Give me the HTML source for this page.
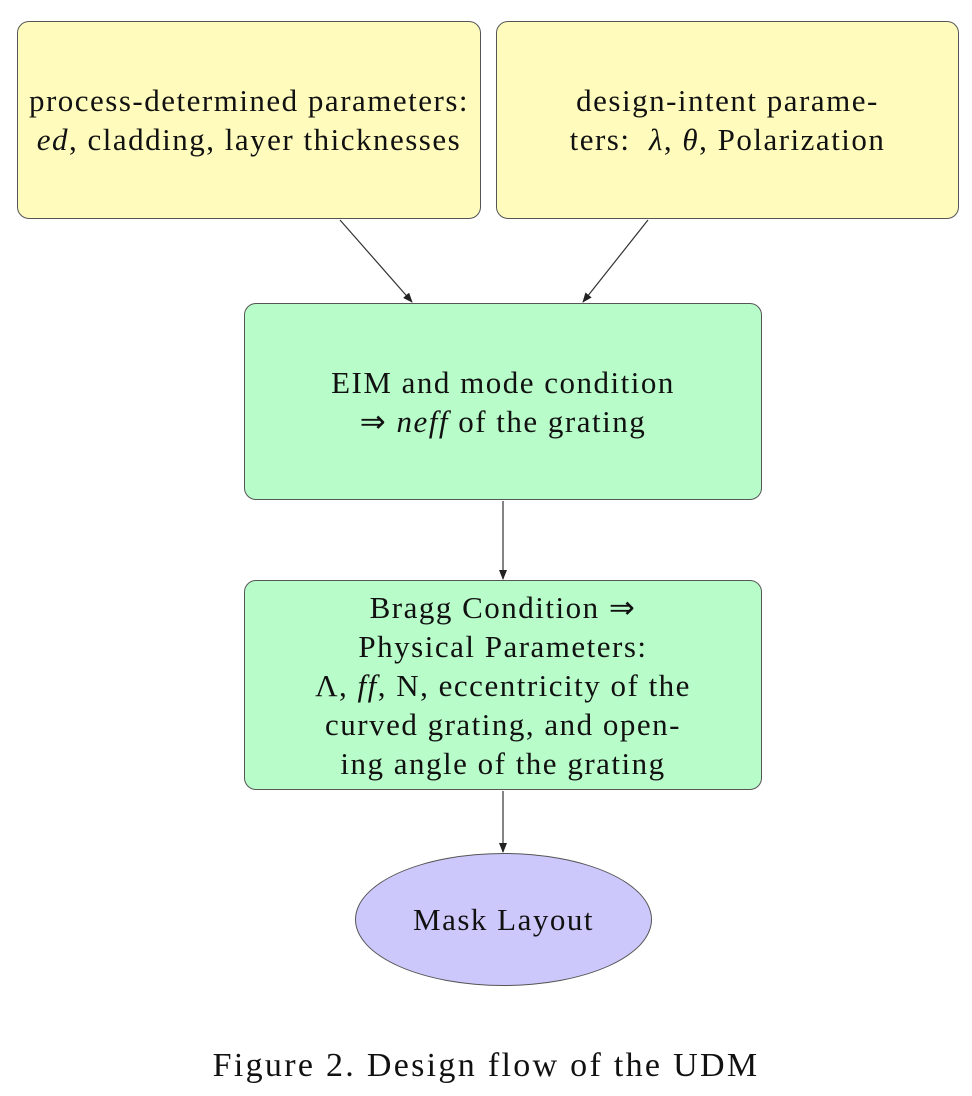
<!DOCTYPE html>
<html><head><style>
body{margin:0;width:972px;height:1096px;background:#fff;position:relative;font-family:"Liberation Serif",serif;color:#111;overflow:hidden}
.b{position:absolute;box-sizing:border-box;border:1.5px solid #555;border-radius:12px;display:flex;align-items:center;justify-content:center;text-align:center;font-size:31px;line-height:39px;letter-spacing:1.5px;white-space:nowrap}
.b>div{display:block}
.y{background:#fefbbd}.g{background:#b8fcc9}
i{font-style:italic}
</style></head><body>
<div class="b y" style="left:17px;top:21px;width:464px;height:198px"><div>process-determined parameters:<br><i>ed</i>, cladding, layer thicknesses</div></div>
<div class="b y" style="left:496px;top:21px;width:463px;height:198px"><div>design-intent parame-<br>ters: &nbsp;<i>λ</i>, <i>θ</i>, Polarization</div></div>
<div class="b g" style="left:244px;top:303px;width:518px;height:197px"><div>EIM and mode condition<br>⇒ <i>neff</i> of the grating</div></div>
<div class="b g" style="left:244px;top:580px;width:518px;height:210px"><div>Bragg Condition ⇒<br>Physical Parameters:<br>Λ, <i>ff</i>, N, eccentricity of the<br>curved grating, and open-<br>ing angle of the grating</div></div>
<div class="b" style="left:355px;top:853px;width:297px;height:133px;border-radius:50%;background:#ccc8fc"><div>Mask Layout</div></div>
<svg width="972" height="1096" style="position:absolute;left:0;top:0">
<defs><marker id="a" markerWidth="10" markerHeight="8" refX="9" refY="4" orient="auto" markerUnits="userSpaceOnUse"><path d="M0,0 L10,4 L0,8 Z" fill="#222"/></marker></defs>
<g stroke="#333" stroke-width="1.2" marker-end="url(#a)">
<line x1="340" y1="220" x2="412" y2="302"/>
<line x1="648" y1="220" x2="583" y2="302"/>
<line x1="503" y1="501" x2="503" y2="579"/>
<line x1="503" y1="791" x2="503" y2="852"/>
</g></svg>
<div style="position:absolute;left:0;width:972px;top:1047px;text-align:center;font-size:34px;letter-spacing:2.3px">Figure 2. Design flow of the UDM</div>
</body></html>
